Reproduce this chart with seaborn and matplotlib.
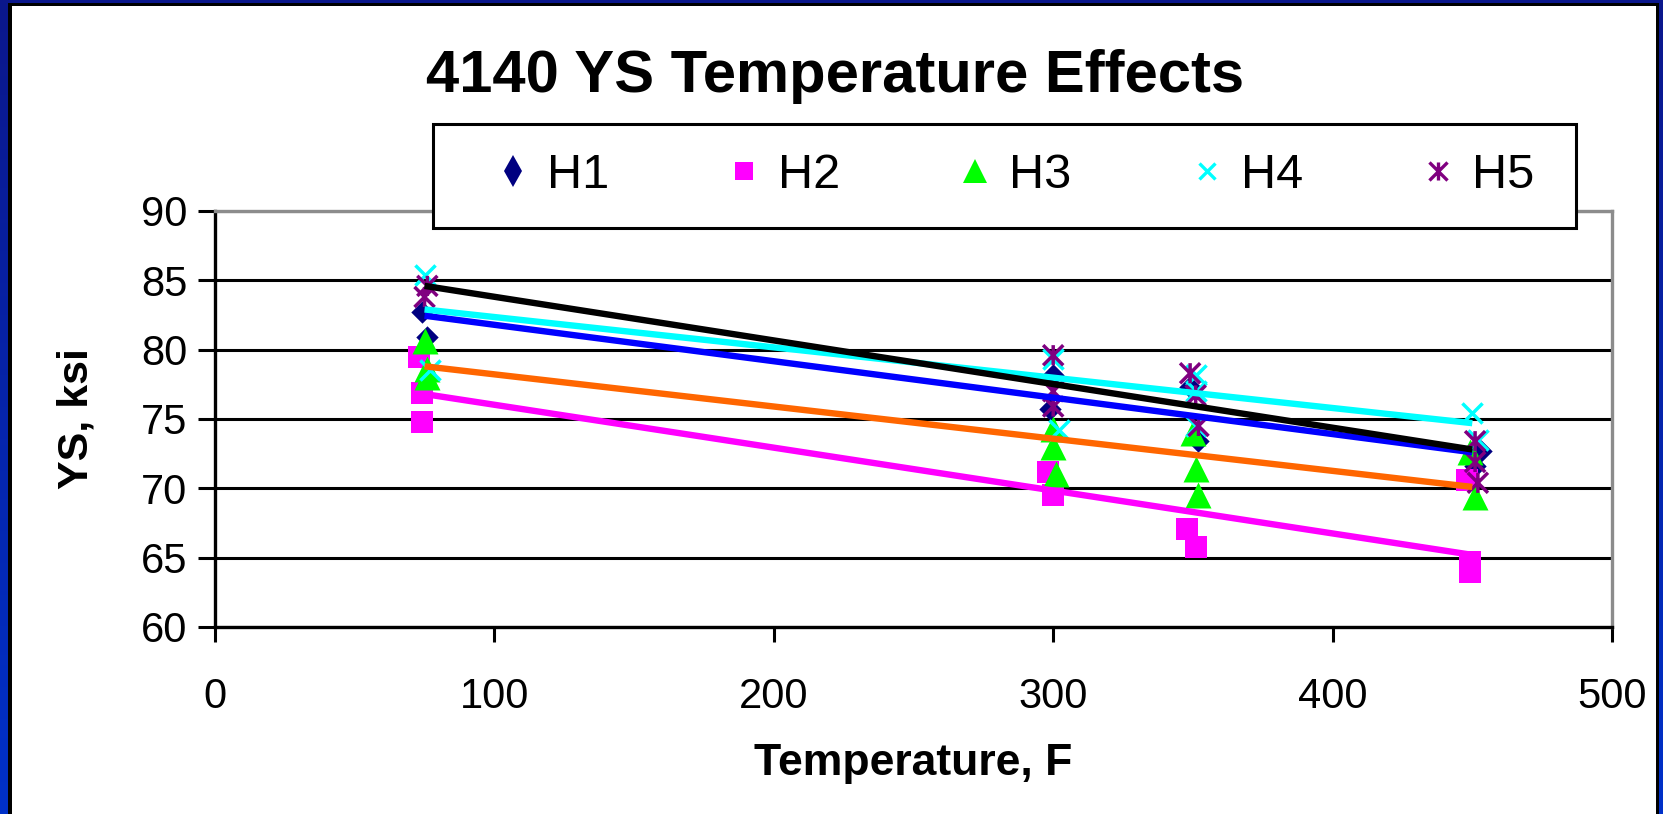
import numpy as np
import matplotlib
matplotlib.use("Agg")
import matplotlib.pyplot as plt
import seaborn as sns
from matplotlib.path import Path
from matplotlib.markers import MarkerStyle
from matplotlib.lines import Line2D
from matplotlib.patches import Rectangle
from matplotlib.colors import LinearSegmentedColormap

# ---- measured yield strength (ksi) vs test temperature (F) per heat ----
h1_temp = [74, 76, 300, 299, 349, 352, 453, 451]
h1_ys = [82.7, 80.9, 78.2, 75.7, 77.3, 73.4, 72.7, 71.6]

h2_temp = [73, 74, 74, 298, 300, 348, 351, 448, 449, 449]
h2_ys = [79.5, 76.9, 74.8, 71.2, 69.5, 67.1, 65.8, 70.6, 64.7, 64.0]

h3_temp = [75, 76, 76, 300, 300, 301, 350, 351, 352, 449, 451]
h3_ys = [80.6, 78.6, 78.0, 74.3, 73.0, 71.0, 74.0, 71.4, 69.5, 72.6, 69.4]

h4_temp = [75, 77, 300, 302, 351, 351, 351, 450, 452]
h4_ys = [85.4, 78.5, 79.3, 74.2, 78.2, 77.0, 74.5, 75.4, 73.5]

h5_temp = [76, 75, 300, 300, 300, 349, 351, 352, 451, 451, 452]
h5_ys = [84.6, 83.8, 79.6, 77.0, 75.9, 78.3, 76.7, 74.5, 73.4, 71.9, 70.4]

# linear trend lines, evaluated at the ends of the tested range
trend_temp = [75, 450]
h1_trend = [82.45, 72.6]
h2_trend = [76.8, 65.2]
h3_trend = [78.8, 70.1]
h4_trend = [82.9, 74.7]
h5_trend = [84.6, 72.8]

series_names = ["H1", "H2", "H3", "H4", "H5"]
x_ticks = [0, 100, 200, 300, 400, 500]
y_ticks = [60, 65, 70, 75, 80, 85, 90]

# ---- styling ----
sns.set_theme(style="white")
plt.rcParams["font.family"] = ["Liberation Sans", "DejaVu Sans"]
plt.rcParams["text.color"] = "black"
plt.rcParams["axes.labelcolor"] = "black"
plt.rcParams["xtick.color"] = "black"
plt.rcParams["ytick.color"] = "black"

W, H = 1663, 814
fig = plt.figure(figsize=(W / 100, H / 100), dpi=100)

# slide-style frame: blue gradient with a thin black rule and white panel
bg = fig.add_axes([0, 0, 1, 1], zorder=-10)
grad = np.linspace(0, 1, 256).reshape(-1, 1)
frame_cmap = LinearSegmentedColormap.from_list("frame", ["#0b178c", "#0031c9"])
bg.imshow(grad, aspect="auto", cmap=frame_cmap, extent=[0, 1, 0, 1], origin="upper")
bg.add_patch(Rectangle((8 / W, 0), (1659 - 8) / W, (H - 3) / H,
                       facecolor="black", edgecolor="none"))
bg.add_patch(Rectangle((12 / W, 0), (1656 - 12) / W, (H - 6) / H,
                       facecolor="white", edgecolor="none"))
bg.set_xlim(0, 1)
bg.set_ylim(0, 1)
bg.axis("off")

ax = fig.add_axes([215 / W, (H - 627) / H, (1612 - 215) / W, (627 - 211) / H])
ax.set_facecolor("white")

# custom asterisk: X plus a vertical stroke
asterisk = Path(
    [(0, -0.5), (0, 0.5), (-0.5, -0.5), (0.5, 0.5), (-0.5, 0.5), (0.5, -0.5)],
    [Path.MOVETO, Path.LINETO, Path.MOVETO, Path.LINETO, Path.MOVETO, Path.LINETO],
)
asterisk_marker = MarkerStyle(asterisk)

navy, magenta, lime, cyan, purple = "#000080", "#FF00FF", "#00FF00", "#00FFFF", "#800080"

sns.scatterplot(x=h1_temp, y=h1_ys, marker="D", color=navy, s=130, linewidth=0,
                ax=ax, zorder=3, legend=False)
sns.scatterplot(x=h2_temp, y=h2_ys, marker="s", color=magenta, s=250, linewidth=0,
                ax=ax, zorder=3, legend=False)
sns.scatterplot(x=h3_temp, y=h3_ys, marker="^", color=lime, s=350, linewidth=0,
                ax=ax, zorder=3, legend=False)
sns.scatterplot(x=h4_temp, y=h4_ys, marker="x", color=cyan, s=210, linewidth=2.5,
                ax=ax, zorder=3, legend=False)
sns.scatterplot(x=h5_temp, y=h5_ys, marker=asterisk_marker, facecolor="none",
                edgecolor=purple, s=210, linewidth=2.5, ax=ax, zorder=3, legend=False)

trend_lw = 4.6
for vals, col in [(h1_trend, "#0000FF"), (h2_trend, magenta), (h3_trend, "#FF6600"),
                  (h4_trend, cyan), (h5_trend, "black")]:
    sns.lineplot(x=trend_temp, y=vals, color=col, lw=trend_lw, ax=ax, zorder=4,
                 legend=False, solid_capstyle="butt")

ax.set_xlim(0, 500)
ax.set_ylim(60, 90)
ax.set_xticks(x_ticks)
ax.set_yticks(y_ticks)
ax.set_xticklabels([str(v) for v in x_ticks])
ax.set_yticklabels([str(v) for v in y_ticks])

ax.set_axisbelow(True)
ax.yaxis.grid(True, color="black", lw=2.2)
ax.xaxis.grid(False)

for side in ["left", "bottom"]:
    ax.spines[side].set_color("black")
    ax.spines[side].set_linewidth(2.4)
for side in ["top", "right"]:
    ax.spines[side].set_color("#8c8c8c")
    ax.spines[side].set_linewidth(2.4)

ax.tick_params(axis="x", direction="out", length=11, width=2.2, color="black",
               labelsize=30, pad=25, bottom=True, labelcolor="black")
ax.tick_params(axis="y", direction="out", length=12, width=2.2, color="black",
               labelsize=30, pad=8, left=True, labelcolor="black")

ax.set_xlabel("Temperature, F", fontsize=32, fontweight="bold", color="black")
ax.set_ylabel("YS, ksi", fontsize=31, fontweight="bold", color="black")
ax.xaxis.set_label_coords(0.5, -0.28)
ax.yaxis.set_label_coords(-0.085, 0.5)

fig.text(835 / W, 1 - 76 / H, "4140 YS Temperature Effects", ha="center", va="center",
         fontsize=43, fontweight="bold", color="black")

# legend box drawn as its own patch so the entries can be spread across it
box = Rectangle((433 / W, 1 - 228 / H), (1576 - 433) / W, (228 - 124) / H,
                transform=fig.transFigure, facecolor="white", edgecolor="black",
                lw=2.2, zorder=4.5)
fig.patches.append(box)

handles = [
    Line2D([], [], ls="none", marker="d", ms=16, color=navy, mew=0),
    Line2D([], [], ls="none", marker="s", ms=13, color=magenta, mew=0),
    Line2D([], [], ls="none", marker="^", ms=17, color=lime, mew=0),
    Line2D([], [], ls="none", marker="x", ms=12, color=cyan, mew=2.4),
    Line2D([], [], ls="none", marker=asterisk_marker, ms=13, markerfacecolor="none",
           markeredgecolor=purple, mew=2.4),
]
leg = fig.legend(handles, series_names, ncol=5, loc="center",
                 bbox_to_anchor=(498 / W, 1 - 200 / H, (1534 - 498) / W, 48 / H),
                 mode="expand", frameon=False, fontsize=35, handlelength=0.6,
                 handletextpad=0.4, borderpad=0, borderaxespad=0)
leg.set_zorder(6)
for t in leg.get_texts():
    t.set_color("black")

fig.savefig("out.png", dpi=100)
